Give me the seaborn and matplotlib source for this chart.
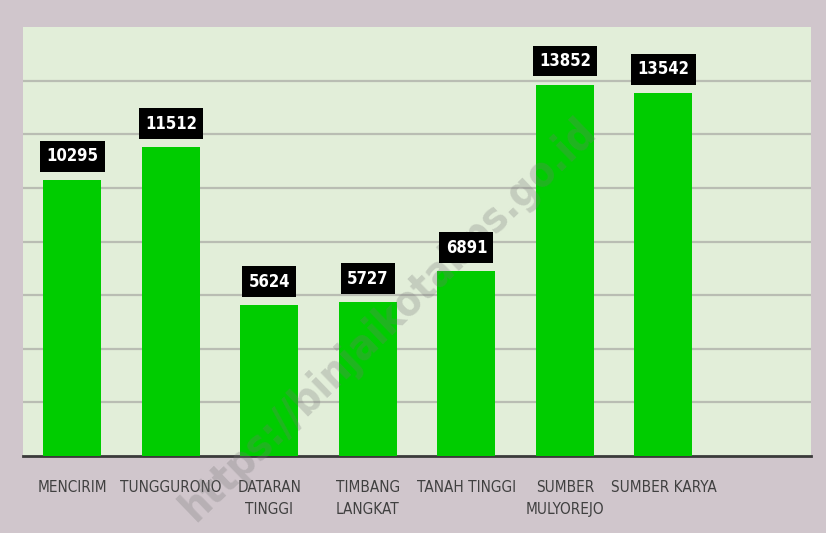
import matplotlib
matplotlib.use("Agg")
import matplotlib.pyplot as plt
import seaborn as sns
import pandas as pd

# data
desa = ["MENCIRIM", "TUNGGURONO", "DATARAN\nTINGGI", "TIMBANG\nLANGKAT",
        "TANAH TINGGI", "SUMBER\nMULYOREJO", "SUMBER KARYA"]
jumlah = [10295, 11512, 5624, 5727, 6891, 13852, 13542]

df = pd.DataFrame({"desa": desa, "jumlah": jumlah})

sns.set_style("white")
plt.rcParams["font.family"] = ["DejaVu Sans"]
plt.rcParams["font.stretch"] = "condensed"

fig = plt.figure(figsize=(8.26, 5.33), dpi=100, facecolor="#d0c6cc")
ax = fig.add_axes([0.028, 0.1445, 0.954, 0.8048])
ax.set_facecolor("#e2eed9")

sns.barplot(data=df, x="desa", y="jumlah", color="#00cc00", width=0.59,
            saturation=1, linewidth=0, ax=ax, zorder=3)

ax.set_xlim(-0.5, 7.5)
ax.set_ylim(0, 16000)
ax.set_yticks(range(2000, 16000, 2000))
ax.yaxis.grid(True, color="#b9bdb3", linewidth=1.6, zorder=0)
ax.set_axisbelow(True)
ax.tick_params(axis="y", left=False, labelleft=False)
ax.tick_params(axis="x", bottom=False, pad=14, labelsize=11, labelcolor="#404040")
for lbl in ax.get_xticklabels():
    lbl.set_linespacing(1.55)
ax.set_xlabel("")
ax.set_ylabel("")
for s in ["top", "right", "left"]:
    ax.spines[s].set_visible(False)
ax.spines["bottom"].set_color("#3a3a3a")
ax.spines["bottom"].set_linewidth(2)

for i, v in enumerate(jumlah):
    ax.annotate(str(v), (i, v), xytext=(0, 17), textcoords="offset points",
                ha="center", va="center", color="white", fontsize=12,
                fontweight="bold", zorder=5,
                bbox=dict(boxstyle="square,pad=0.38", fc="black", ec="none"))

# watermark, under the value boxes
ax.text(0.47, 0.40, "https://binjaikotabps.go.id", rotation=44, fontsize=30,
        color="#777777", alpha=0.28, ha="center", va="center",
        fontweight="bold", zorder=4, transform=fig.transFigure, clip_on=False)

plt.savefig("out.png", dpi=100, facecolor=fig.get_facecolor())
